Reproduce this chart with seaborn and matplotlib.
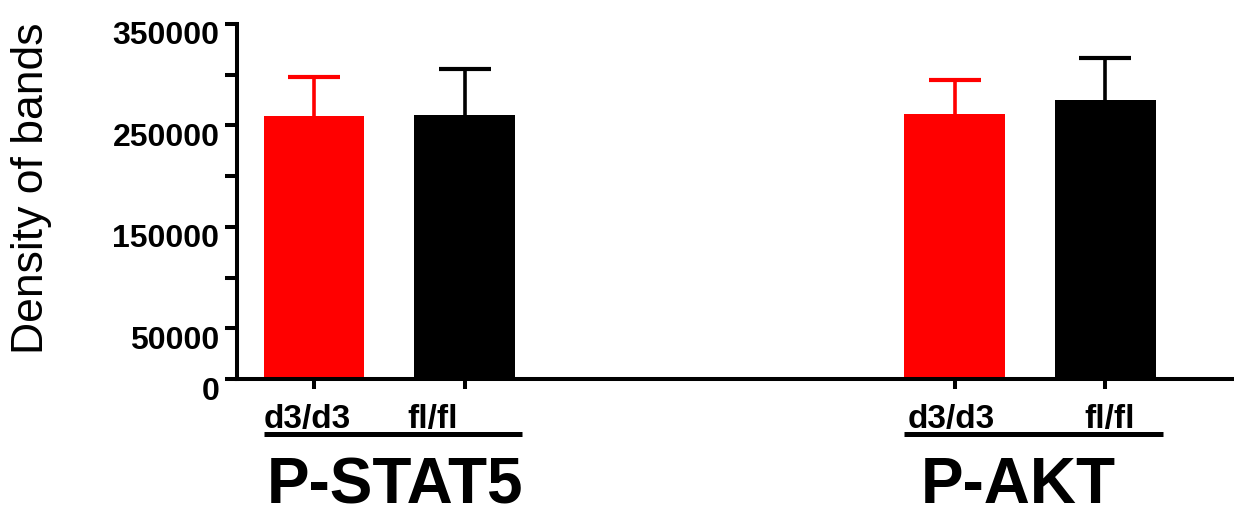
import numpy as np
import pandas as pd
import matplotlib
matplotlib.use("Agg")
import matplotlib.pyplot as plt
import matplotlib.transforms as mtransforms
import seaborn as sns

# ---- data ----
targets = ["P-STAT5", "P-AKT"]
genotypes = ["d3/d3", "fl/fl"]
mean_d3 = [259300, 261300]
mean_fl = [260300, 275100]
sem_d3 = [38400, 33500]
sem_fl = [45300, 41400]
yticks_all = [0, 50000, 100000, 150000, 200000, 250000, 300000, 350000]
ytick_labels = ["0", "50000", "", "150000", "", "250000", "", "350000"]
colors = {"d3/d3": "#FF0000", "fl/fl": "#000000"}

df = pd.DataFrame({
    "target": targets * 2,
    "genotype": [genotypes[0]] * 2 + [genotypes[1]] * 2,
    "density": mean_d3 + mean_fl,
    "sem": sem_d3 + sem_fl,
})

sns.set_theme(style="ticks")
plt.rcParams["font.family"] = ["Liberation Sans", "DejaVu Sans"]
plt.rcParams["text.color"] = "black"
plt.rcParams["axes.labelcolor"] = "black"
plt.rcParams["xtick.color"] = "black"
plt.rcParams["ytick.color"] = "black"

fig = plt.figure(figsize=(12.34, 5.18), dpi=100)
ax = fig.add_axes([237 / 1234, 139 / 518, 997 / 1234, 355 / 518])

sns.barplot(data=df, x="target", y="density", hue="genotype",
            order=targets, hue_order=genotypes, palette=colors,
            errorbar=None, width=0.47, gap=0.33, legend=False,
            saturation=1, linewidth=0, ax=ax)

ax.set_xlim(-0.2376, 1.3184)
ax.set_ylim(0, 350000)

# error bars (upper only), positioned from the drawn bars
patches = sorted(ax.patches, key=lambda p: p.get_x())
lookup = {(r.target, r.genotype): r.sem for r in df.itertuples()}
keys = [(t, g) for t in targets for g in genotypes]
centers = []
for p, key in zip(patches, keys):
    xc = p.get_x() + p.get_width() / 2
    centers.append(xc)
    h = p.get_height()
    col = p.get_facecolor()
    eb = ax.errorbar([xc], [h], yerr=[[0], [lookup[key]]], fmt="none",
                     ecolor=col, elinewidth=2.6, capsize=18.5, capthick=3.0,
                     zorder=3)
    eb[1][0].set_visible(False)

# axes styling
for s in ["top", "right"]:
    ax.spines[s].set_visible(False)
for s in ["left", "bottom"]:
    ax.spines[s].set_linewidth(2.9)
    ax.spines[s].set_color("black")

ax.set_yticks(yticks_all)
ax.set_yticklabels(ytick_labels, fontsize=23, fontweight="bold")
ax.tick_params(axis="y", length=8.6, width=2.9, pad=4, colors="black")
dy = mtransforms.ScaledTranslation(0, -9 / 100, fig.dpi_scale_trans)
for lbl in ax.get_yticklabels():
    lbl.set_transform(lbl.get_transform() + dy)

ax.set_xticks(centers)
ax.set_xticklabels([g for t in targets for g in genotypes],
                   fontsize=24, fontweight="bold")
ax.tick_params(axis="x", length=7, width=2.9, pad=11, colors="black")
shifts = [-7, -32, -3, 4]
for lbl, sh in zip(ax.get_xticklabels(), shifts):
    lbl.set_transform(lbl.get_transform() +
                      mtransforms.ScaledTranslation(sh / 100, 0, fig.dpi_scale_trans))

ax.set_xlabel("")
ax.set_ylabel("")

# group underline and group labels
trans = mtransforms.blended_transform_factory(ax.transData, ax.transAxes)
unit = 640.75
label_dx = [5.5, -12]
for i, t in enumerate(targets):
    left = patches[2 * i].get_x()
    right = patches[2 * i + 1].get_x() + patches[2 * i + 1].get_width()
    ax.plot([left, right + 7 / unit], [-0.155, -0.155], color="black",
            lw=3.6, transform=trans, clip_on=False, solid_capstyle="butt")
    ax.text(i + label_dx[i] / unit, -0.350, t, transform=trans,
            ha="center", va="baseline", fontsize=46, fontweight="bold")

ax.text(-0.2066, 0.538, "Density of bands", transform=ax.transAxes,
        rotation=90, ha="center", va="center", fontsize=32)

fig.savefig("out.png", dpi=100)
